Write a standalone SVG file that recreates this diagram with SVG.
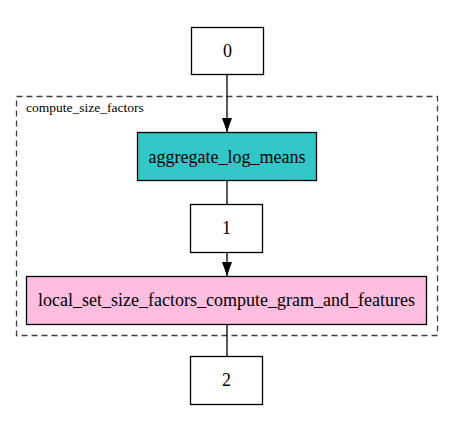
<svg xmlns="http://www.w3.org/2000/svg" width="453" height="431" viewBox="0 0 453 431">
<style>
text{font-family:"Liberation Serif","Times New Roman",serif;fill:#000}
.n{font-size:18px;text-anchor:middle}
.box{stroke:#000;stroke-width:1.3}
.e{stroke:#000;stroke-width:1.3;fill:none}
</style>
<defs>
<marker id="ah" markerWidth="14" markerHeight="10" refX="14" refY="5" orient="auto" markerUnits="userSpaceOnUse" viewBox="0 0 14 10">
<path d="M0,0 L14,5 L0,10 z" fill="#000"/>
</marker>
</defs>
<rect width="453" height="431" fill="#fff"/>
<g id="cluster_compute_size_factors">
<rect x="16.5" y="96.5" width="421" height="239" fill="none" stroke="#404040" stroke-width="1.3" stroke-dasharray="6,4"/>
<text x="26" y="112" font-size="13.5">compute_size_factors</text>
</g>
<g id="edges">
<path class="e" d="M227,74.5 V132" marker-end="url(#ah)"/>
<path class="e" d="M227,180.5 V204"/>
<path class="e" d="M227,252.5 V276" marker-end="url(#ah)"/>
<path class="e" d="M227,324.5 V356"/>
</g>
<g id="node0">
<rect class="box" x="191.5" y="27.5" width="72" height="47" fill="#fff"/>
<text class="n" x="227.5" y="57">0</text>
</g>
<g id="node_aggregate_log_means">
<rect class="box" x="137.5" y="132.5" width="179" height="48" fill="#33c6c6"/>
<text class="n" x="227" y="162.5">aggregate_log_means</text>
</g>
<g id="node1">
<rect class="box" x="190.5" y="204.5" width="72" height="48" fill="#fff"/>
<text class="n" x="226.5" y="234">1</text>
</g>
<g id="node_local">
<rect class="box" x="26.5" y="276.5" width="400" height="48" fill="#ffbde0"/>
<text class="n" x="226.5" y="306">local_set_size_factors_compute_gram_and_features</text>
</g>
<g id="node2">
<rect class="box" x="190.5" y="356.5" width="72" height="48" fill="#fff"/>
<text class="n" x="226.5" y="386">2</text>
</g>
</svg>
